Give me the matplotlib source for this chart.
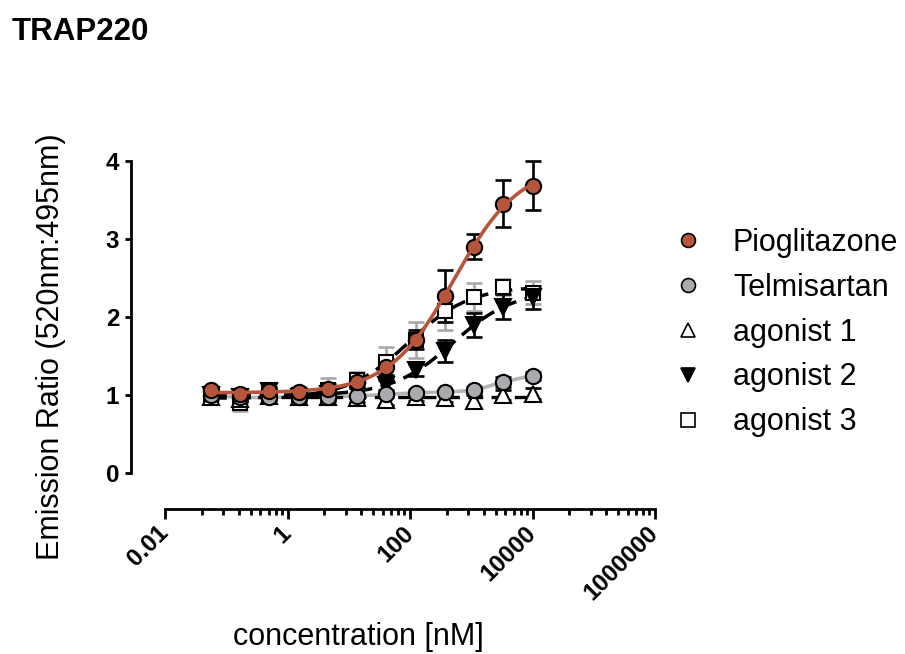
import numpy as np
import matplotlib
matplotlib.use('Agg')
import matplotlib.pyplot as plt
from matplotlib.lines import Line2D
from matplotlib.ticker import FixedLocator, NullFormatter

plt.rcParams['font.family'] = ['Liberation Sans', 'DejaVu Sans']

# ---------------- data ----------------
conc = [0.0565, 0.169, 0.508, 1.524, 4.572, 13.72, 41.15, 123.5, 370.4, 1111.0, 3333.0, 10000.0]

pio      = [1.06, 1.02, 1.05, 1.04, 1.08, 1.17, 1.36, 1.71, 2.27, 2.90, 3.45, 3.68]
pio_err  = [0.04, 0.03, 0.05, 0.04, 0.06, 0.06, 0.10, 0.12, 0.33, 0.16, 0.30, 0.31]
telm     = [1.00, 0.97, 0.97, 0.98, 0.98, 0.99, 1.01, 1.03, 1.04, 1.06, 1.17, 1.25]
telm_err = [0.03, 0.04, 0.03, 0.03, 0.04, 0.03, 0.04, 0.03, 0.03, 0.04, 0.06, 0.05]
ag1      = [0.98, 0.95, 0.99, 0.98, 0.97, 0.96, 0.94, 0.98, 0.96, 0.92, 1.00, 1.02]
ag1_err  = [0.03, 0.04, 0.03, 0.04, 0.04, 0.05, 0.06, 0.05, 0.05, 0.08, 0.06, 0.07]
ag2      = [1.00, 0.97, 1.05, 0.98, 1.02, 1.04, 1.13, 1.32, 1.57, 1.90, 2.13, 2.25]
ag2_err  = [0.04, 0.05, 0.10, 0.05, 0.07, 0.05, 0.07, 0.08, 0.14, 0.15, 0.16, 0.15]
ag3      = [0.97, 0.90, 1.02, 1.00, 1.07, 1.19, 1.43, 1.71, 2.08, 2.26, 2.38, 2.31]
ag3_err  = [0.05, 0.10, 0.08, 0.10, 0.15, 0.10, 0.18, 0.23, 0.24, 0.18, 0.10, 0.15]

labels = ['Pioglitazone', 'Telmisartan', 'agonist 1', 'agonist 2', 'agonist 3']
xticks = [0.01, 1, 100, 10000, 1000000]
xticklabels = ['0.01', '1', '100', '10000', '1000000']
yticks = [0, 1, 2, 3, 4]

ORANGE = '#B4553C'
GREY = '#A9ABAF'
GREYLINE = '#B5B5B5'
GREYERR = '#A8A8A8'


def fit_4pl(x, y):
    """Least-squares 4-parameter logistic fit (grid over logEC50 / Hill,
    linear solve for bottom / top)."""
    lx = np.log10(np.asarray(x, float))
    y = np.asarray(y, float)
    best = None
    for c in np.linspace(lx.min(), lx.max() + 1.5, 300):
        for h in np.linspace(0.3, 3.0, 90):
            s = 1.0 / (1.0 + 10 ** ((c - lx) * h))
            A = np.column_stack([1 - s, s])
            coef, *_ = np.linalg.lstsq(A, y, rcond=None)
            err = np.sum((A @ coef - y) ** 2)
            if best is None or err < best[0]:
                best = (err, coef[0], coef[1], c, h)
    _, b, t, c, h = best

    def f(xx):
        s = 1.0 / (1.0 + 10 ** ((c - np.log10(xx)) * h))
        return b + (t - b) * s
    return f


fig = plt.figure(figsize=(9.05, 6.54), dpi=100)
W, H = 905, 654
ax_left, ax_right = 165 / W, 655 / W
y0_px, px_per_unit = 473.3, 78.15
ymax = 4.2
ax_bottom = (H - y0_px) / H
ax_top = (H - (y0_px - ymax * px_per_unit)) / H
ax = fig.add_axes([ax_left, ax_bottom, ax_right - ax_left, ax_top - ax_bottom])
ax.set_xscale('log')
ax.set_xlim(0.01, 1e6)
ax.set_ylim(0, ymax)

xs = np.logspace(np.log10(conc[0]), np.log10(conc[-1]), 300)

# connecting / fitted lines
ax.plot(conc, telm, color=GREYLINE, lw=2.6, zorder=2)
ag1_mean = float(np.mean(ag1))
ax.plot([conc[0], conc[-1]], [ag1_mean, ag1_mean], color='black', lw=2.4,
        dashes=(4.5, 2.5), zorder=2)
ax.plot(xs, fit_4pl(conc, ag2)(xs), color='black', lw=2.5, dashes=(4.5, 2.5), zorder=3)
ax.plot(xs, fit_4pl(conc, ag3)(xs), color='black', lw=2.5, dashes=(4.5, 2.5), zorder=3)

series = [
    (ag3, ag3_err, dict(marker='s', mfc='white', mec='black', ms=10.5), GREYERR, 4.0),
    (ag2, ag2_err, dict(marker='v', mfc='black', mec='black', ms=11.5), 'black', 4.1),
    (ag1, ag1_err, dict(marker='^', mfc='white', mec='black', ms=11), 'black', 4.2),
    (telm, telm_err, dict(marker='o', mfc=GREY, mec='black', ms=11), 'black', 4.3),
    (pio, pio_err, dict(marker='o', mfc=ORANGE, mec='black', ms=11), 'black', 4.4),
]
for vals, errs, mk, ecol, z in series:
    ax.errorbar(conc, vals, yerr=errs, fmt='none', ecolor=ecol, elinewidth=1.9,
                capsize=5.5, capthick=1.9, zorder=z - 0.5, clip_on=False)
    ax.plot(conc, vals, linestyle='none', mew=1.5, zorder=z, clip_on=False, **mk)

ax.plot(xs, fit_4pl(conc, pio)(xs), color=ORANGE, lw=2.6, zorder=5)

# axes styling (Prism-like detached axes)
for s in ['top', 'right']:
    ax.spines[s].set_visible(False)
ax.spines['left'].set_position(('outward', 24.5))
ax.spines['bottom'].set_position(('outward', 25.5))
ax.spines['left'].set_bounds(0, 4)
for s in ['left', 'bottom']:
    ax.spines[s].set_linewidth(2.0)

ax.set_yticks(yticks)
ax.set_yticklabels([str(v) for v in yticks], fontsize=17.5, fontweight='bold')
ax.tick_params(axis='y', length=4.5, width=2.0, pad=4)

ax.xaxis.set_major_locator(FixedLocator(xticks))
minor = [m * n * n for m in xticks[:-1] for n in range(2, 10)]
ax.xaxis.set_minor_locator(FixedLocator(minor))
ax.xaxis.set_minor_formatter(NullFormatter())
ax.set_xticklabels(xticklabels, fontsize=17.5, fontweight='bold', rotation=45,
                   ha='right', va='center', rotation_mode='anchor')
ax.tick_params(axis='x', which='major', length=7, width=2.0, pad=8)
ax.tick_params(axis='x', which='minor', length=4, width=2.0)

ax.set_xlabel('concentration [nM]', fontsize=22)
ax.xaxis.set_label_coords(358 / W, 1 - 645 / H, transform=fig.transFigure)
ax.xaxis.label.set_va('baseline')
ax.set_ylabel('Emission Ratio (520nm:495nm)', fontsize=22)
ax.yaxis.set_label_coords(51.5 / W, 1 - 347 / H, transform=fig.transFigure)
ax.yaxis.label.set_va('center')

fig.text(12 / W, 1 - 40.5 / H, 'TRAP220', fontsize=22.5, fontweight='bold',
         ha='left', va='baseline')

handles = [
    Line2D([], [], linestyle='none', marker='o', mfc=ORANGE, mec='black', ms=10, mew=1.2),
    Line2D([], [], linestyle='none', marker='o', mfc=GREY, mec='black', ms=10, mew=1.2),
    Line2D([], [], linestyle='none', marker='^', mfc='white', mec='black', ms=10, mew=1.2),
    Line2D([], [], linestyle='none', marker='v', mfc='black', mec='black', ms=10, mew=1.2),
    Line2D([], [], linestyle='none', marker='s', mfc='white', mec='black', ms=9.5, mew=1.2),
]
fig.legend(handles, labels, loc='center left', bbox_to_anchor=(672.7 / W, 1 - 332.5 / H),
           bbox_transform=fig.transFigure, frameon=False, fontsize=22,
           handlelength=1.0, handletextpad=0.97, labelspacing=0.49, borderpad=0,
           borderaxespad=0)

fig.savefig('out.png', dpi=100)
